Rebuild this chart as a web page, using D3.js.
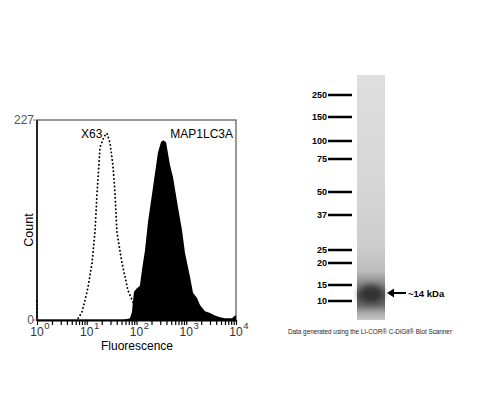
<!DOCTYPE html>
<html><head><meta charset="utf-8">
<script src="https://cdn.jsdelivr.net/npm/d3@7"></script>
<style>html,body{margin:0;padding:0;background:#fff;}svg{display:block;font-family:Arial,"Liberation Sans",sans-serif;}</style>
</head><body>
<script>
// ---- Flow cytometry histogram data ----
const x63Fluor = [6.7, 8, 9.2, 10.6, 12.8, 14.7, 16.1, 18.5, 22.2, 25.5, 29.3, 33.7, 37, 40.5, 51, 67, 85, 98];
const x63Count = [2, 9, 22, 37, 65, 102, 144, 196, 208, 212, 201, 175, 144, 99, 65, 34, 20, 2];
const x63EdgeFluor = [1, 1];
const x63EdgeCount = [0, 23];
const lc3Fluor = [54, 74, 81, 89, 102, 117, 129, 148, 170, 215, 270, 311, 341, 392, 471, 542, 682, 822, 944, 1189, 1367, 1644, 1889, 2381, 3000, 3784, 4766, 6006, 8310, 9550, 10000];
const lc3Count = [0, 2, 9, 32, 36, 39, 57, 79, 111, 151, 190, 202, 204, 202, 176, 162, 128, 102, 76, 49, 31, 25, 17, 10, 8, 5, 3, 2, 2, 5, 5];
const yTickLabels = ["0", "227"];
const decades = [1, 10, 100, 1000, 10000];
const seriesNames = ["X63", "MAP1LC3A"];
// ---- Western blot data ----
const ladderKDa = [250, 150, 100, 75, 50, 37, 25, 20, 15, 10];
const ladderPos = [95, 117, 141, 159, 192, 215, 250, 263, 285, 301]; // migration on the blot (px units)
const bandLabel = "~14 kDa";
const bandPos = 294; // observed migration of the band
const caption = "Data generated using the LI-COR\u00AE C-DiGit\u00AE Blot Scanner";

const W = 500, H = 400;
const svg = d3.select("body").append("svg").attr("width", W).attr("height", H);

// ---- Histogram ----
const x = d3.scaleLog().domain([1, 10000]).range([37, 236]);
const y = d3.scaleLinear().domain([0, 227]).range([320, 120]);

svg.append("rect").attr("x", 37).attr("y", 120).attr("width", 199).attr("height", 200)
  .attr("fill", "none").attr("stroke", "#777").attr("stroke-width", 1.5);

const area = d3.area().x((d, i) => x(lc3Fluor[i])).y0(y(0)).y1((d) => y(d));
svg.append("path").datum(lc3Count).attr("d", area).attr("fill", "#000");

const dotted = (p) => p.attr("fill", "none").attr("stroke", "#000").attr("stroke-width", 1.9)
  .attr("stroke-dasharray", "0.1,3.7").attr("stroke-linecap", "round");
const line = d3.line().x((d, i) => x(x63Fluor[i])).y((d) => y(d));
svg.append("path").datum(x63Count).attr("d", line).call(dotted);
const edgeLine = d3.line().x((d, i) => x(x63EdgeFluor[i])).y((d) => y(d));
svg.append("path").datum(x63EdgeCount).attr("d", edgeLine).call(dotted);

svg.append("line").attr("x1", 37).attr("x2", 37).attr("y1", 120).attr("y2", 320).attr("stroke", "#000").attr("stroke-width", 1.5);
svg.append("line").attr("x1", 33).attr("x2", 37).attr("y1", 120).attr("y2", 120).attr("stroke", "#888");
svg.append("line").attr("x1", 33).attr("x2", 37).attr("y1", 320).attr("y2", 320).attr("stroke", "#888");
const xAxis = d3.axisBottom(x).tickSize(5).tickFormat("").tickSizeOuter(0);
const gx = svg.append("g").attr("transform", "translate(0,320)").call(xAxis);
gx.select(".domain").attr("stroke", "#000").attr("stroke-width", 2);
gx.selectAll(".tick line").attr("stroke", "#000").attr("stroke-width", 1.2);

const yl = [0, 227];
svg.selectAll(".ylab").data(yl).enter().append("text")
  .attr("x", 34).attr("y", (d) => y(d) + 4).attr("text-anchor", "end")
  .attr("font-size", 12).attr("fill", "#555").text((d, i) => yTickLabels[i]);

decades.forEach((d, i) => {
  svg.append("text").attr("x", x(d)).attr("y", 336).attr("text-anchor", "middle")
    .attr("font-size", 12).attr("fill", "#333").text("10");
  svg.append("text").attr("x", x(d) + 7.2).attr("y", 329).attr("text-anchor", "start")
    .attr("font-size", 9.5).attr("fill", "#333").text(String(i));
});
svg.append("text").attr("x", 137).attr("y", 350).attr("text-anchor", "middle")
  .attr("font-size", 12).attr("fill", "#000").text("Fluorescence");
svg.append("text").attr("transform", "translate(33,230) rotate(-90)").attr("text-anchor", "middle")
  .attr("font-size", 12.5).attr("fill", "#000").text("Count");
svg.append("text").attr("x", 81).attr("y", 138).attr("font-size", 12).attr("fill", "#000").text(seriesNames[0]);
svg.append("text").attr("x", 233).attr("y", 138).attr("text-anchor", "end").attr("font-size", 12).attr("fill", "#000").text(seriesNames[1]);

// ---- Western blot ----
const defs = svg.append("defs");
const lg = defs.append("linearGradient").attr("id", "lane").attr("x1", 0).attr("x2", 0).attr("y1", 0).attr("y2", 1);
[[0, "#dedede"], [0.45, "#d6d6d6"], [0.7, "#cdcdcd"], [0.8, "#bcbcbc"], [0.85, "#8c8c8c"], [0.9, "#555"], [0.94, "#6a6a6a"], [0.97, "#a8a8a8"], [1, "#c8c8c8"]]
  .forEach(([o, c]) => lg.append("stop").attr("offset", o).attr("stop-color", c));
const blur = defs.append("filter").attr("id", "blur").attr("x", "-30%").attr("y", "-50%").attr("width", "160%").attr("height", "200%");
blur.append("feGaussianBlur").attr("stdDeviation", 3);

svg.append("rect").attr("x", 357).attr("y", 75).attr("width", 28).attr("height", 245).attr("fill", "url(#lane)");
svg.append("ellipse").attr("cx", 371).attr("cy", bandPos).attr("rx", 12).attr("ry", 9)
  .attr("fill", "#333").attr("filter", "url(#blur)");

ladderKDa.forEach((k, i) => {
  const yy = ladderPos[i];
  svg.append("line").attr("x1", 328).attr("x2", 352).attr("y1", yy).attr("y2", yy)
    .attr("stroke", "#000").attr("stroke-width", 2.5);
  svg.append("text").attr("x", 327).attr("y", yy + 3.2).attr("text-anchor", "end")
    .attr("font-size", 9).attr("font-weight", "bold").attr("fill", "#000").text(String(k));
});

const by = bandPos - 1;
svg.append("line").attr("x1", 392).attr("x2", 406).attr("y1", by).attr("y2", by).attr("stroke", "#000").attr("stroke-width", 2);
svg.append("path").attr("d", `M387,${by} L394,${by - 4.5} L394,${by + 4.5} Z`).attr("fill", "#000");
svg.append("text").attr("x", 408).attr("y", by + 3.5).attr("font-size", 9.5).attr("font-weight", "bold").text(bandLabel);

svg.append("text").attr("x", 288).attr("y", 334).attr("font-size", 7).attr("textLength", 164)
  .attr("lengthAdjust", "spacingAndGlyphs").attr("fill", "#222").text(caption);
</script>
</body></html>
